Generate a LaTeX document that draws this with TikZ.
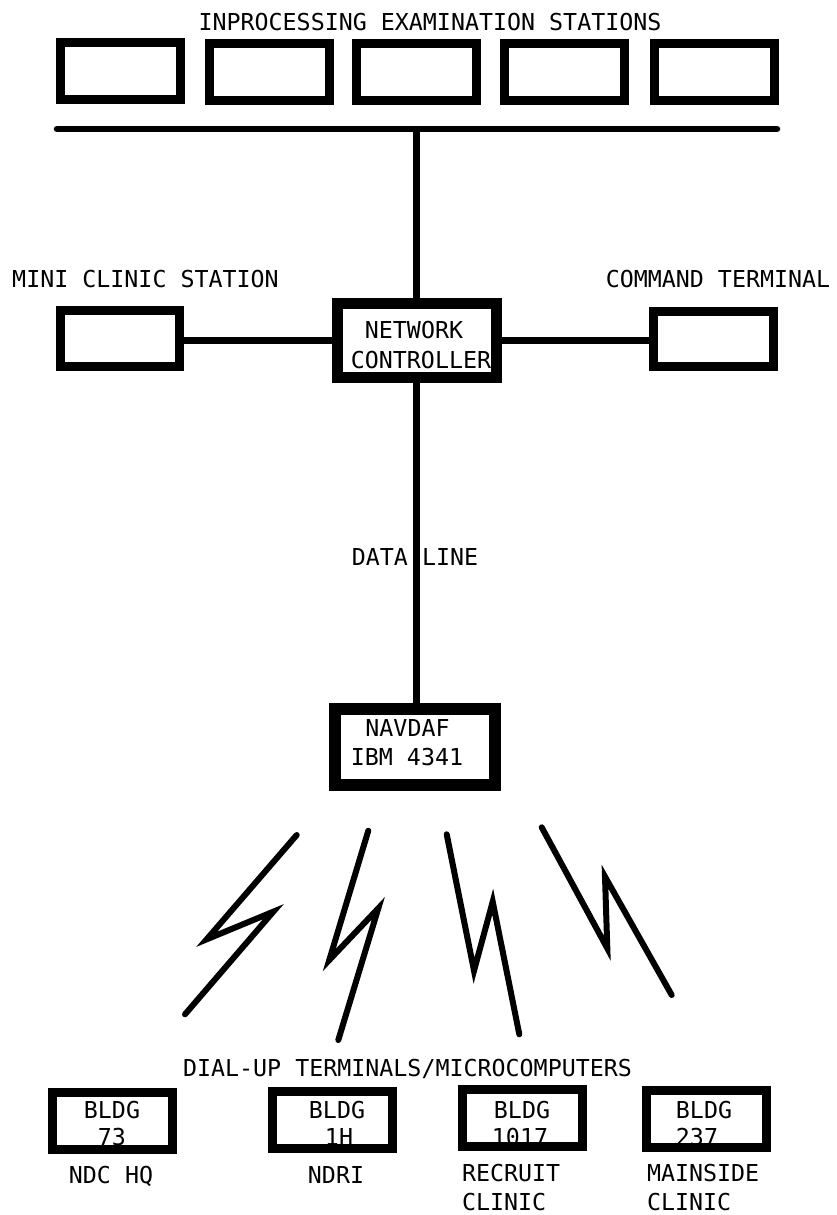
\documentclass[tikz,border=0pt]{standalone}
\usepackage{fontspec}
\setmainfont{DejaVu Sans Mono}
\begin{document}
\begin{tikzpicture}[x=1pt,y=-1pt,
  box/.style={draw, line width=9pt, minimum width=120pt, minimum height=57pt, inner sep=0pt, outer sep=0pt},
  bigbox/.style={draw, line width=11pt, minimum width=159pt, minimum height=74pt, inner sep=0pt, outer sep=0pt},
  wire/.style={line width=6.5pt},
  bolt/.style={line width=6pt, line join=miter, line cap=round},
  lbl/.style={inner sep=0pt, outer sep=0pt, font=\fontsize{23.3}{28}\selectfont, anchor=base},
  lblw/.style={lbl, anchor=base west}]
\useasboundingbox (0,0) rectangle (837,1215);

% title and top stations
\node[lbl] (title) at (430,30.5) {INPROCESSING EXAMINATION STATIONS};
\node[box] (s1) at (120.5,71) {};
\node[box] (s2) at (269,72) {};
\node[box] (s3) at (416,72) {};
\node[box] (s4) at (564.5,72) {};
\node[box] (s5) at (714.5,72) {};

% bus
\coordinate (busL) at (57,129);
\coordinate (busR) at (777,129);
\draw[wire, line cap=round] (busL) -- (busR);

% network controller row
\node[lbl] (minilbl) at (145.5,287) {MINI CLINIC STATION};
\node[lbl] (cmdlbl) at (718,287) {COMMAND TERMINAL};
\node[box, minimum width=119pt, minimum height=56pt] (mini) at (120,338.5) {};
\node[box, minimum width=120pt, minimum height=55pt] (cmd) at (713.5,339) {};
\node[bigbox] (nc) at (416.5,340.5) {};
\node[lbl] (nc1) at (414,338.5) {NETWORK};
\node[lbl] (nc2) at (421,368.5) {CONTROLLER};

\draw[wire] (nc.north) -- (nc.north |- busL);
\draw[wire] (mini.east |- nc.west) -- (nc.west);
\draw[wire] (nc.east) -- (nc.east -| cmd.west);

% data line and host
\node[bigbox, line width=12pt, minimum width=160pt, minimum height=76pt] (host) at (415,747) {};
\node[lbl] (host1) at (407.5,736.5) {NAVDAF};
\node[lbl] (host2) at (407,765.5) {IBM 4341};
\draw[wire] (nc.south) -- (nc.south |- host.north);
\node[lbl] (datalbl) at (415,565.5) {DATA LINE};

% lightning bolts
\draw[bolt] (296.7,835) -- (206.7,939.3) -- (273.3,911.7) -- (185,1014.3);
\draw[bolt] (368.3,830.7) -- (329.3,960) -- (378.3,908.3) -- (338.3,1040);
\draw[bolt] (446.7,834.3) -- (474,970.7) -- (492.7,901.7) -- (519.3,1034.3);
\draw[bolt] (541.7,827.3) -- (607.3,948.3) -- (605,876.7) -- (671.7,995);

% dial-up terminals
\node[lbl] (diallbl) at (407.5,1076.5) {DIAL-UP TERMINALS/MICROCOMPUTERS};
\node[box] (b1) at (112.5,1121) {};
\node[box] (b2) at (332,1119.5) {};
\node[box] (b3) at (522,1118) {};
\node[box] (b4) at (706,1118.5) {};

\node[lbl] (b1a) at (112,1118.5) {BLDG};
\node[lbl] (b1b) at (112,1145.5) {73};
\node[lbl] (b2a) at (337,1118.5) {BLDG};
\node[lbl] (b2b) at (339,1145.5) {1H};
\node[lbl] (b3a) at (522,1118.5) {BLDG};
\node[lbl] (b3b) at (520,1145.5) {1017};
\node[lbl] (b4a) at (704,1118.5) {BLDG};
\node[lbl] (b4b) at (697,1145.5) {237};

\node[lbl] (n1) at (111,1183.5) {NDC HQ};
\node[lbl] (n2) at (336,1183.5) {NDRI};
\node[lblw] (n3a) at (462,1181.5) {RECRUIT};
\node[lblw] (n3b) at (462,1210.5) {CLINIC};
\node[lblw] (n4a) at (647,1181.5) {MAINSIDE};
\node[lblw] (n4b) at (647,1210.5) {CLINIC};
\end{tikzpicture}
\end{document}
